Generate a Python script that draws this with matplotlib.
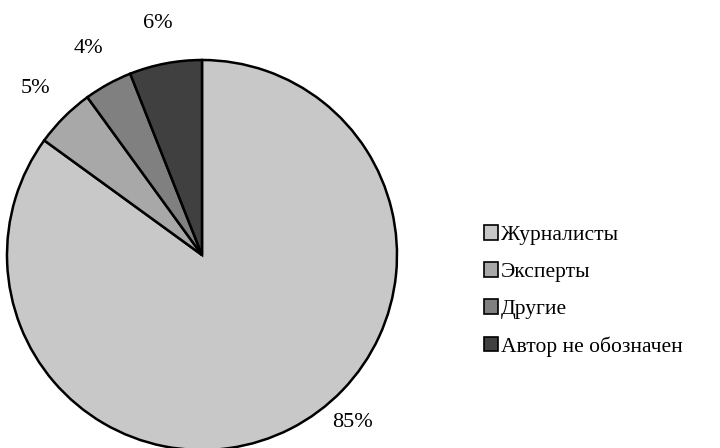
import matplotlib.pyplot as plt
from matplotlib.patches import Patch

# Authors of publications, share in percent
labels = ["Журналисты", "Эксперты", "Другие", "Автор не обозначен"]
shares = [85, 5, 4, 6]
colors = ["#c8c8c8", "#a8a8a8", "#808080", "#404040"]

plt.rcParams['font.family'] = ['Liberation Serif', 'DejaVu Serif']

fig = plt.figure(figsize=(7.2, 4.48), dpi=100)
# pie axes sized so that the circle spans 390 px
ax = fig.add_axes([7/720, -2/448, 390/720, 390/448])

wedges, texts, autotexts = ax.pie(shares, colors=colors, startangle=90, counterclock=False,
                                  radius=1.0, autopct='%d%%', pctdistance=1.21,
                                  wedgeprops=dict(edgecolor='black', linewidth=1.8),
                                  textprops=dict(fontsize=16, color='black'))
# big slice label sits lower-right, near the edge
autotexts[0].set_position((0.77, -0.86))
ax.set_xlim(-1.0, 1.0)
ax.set_ylim(-1.0, 1.0)
ax.set_aspect('equal')
ax.axis('off')

handles = [Patch(facecolor=c, edgecolor='black', linewidth=1.2) for c in colors]
fig.legend(handles, labels, loc='upper left', bbox_to_anchor=(0.645, 0.54),
           frameon=False, fontsize=15.5, handlelength=0.65, handleheight=0.65,
           handletextpad=0.15, labelspacing=0.8)

fig.savefig("out.png", dpi=100)
